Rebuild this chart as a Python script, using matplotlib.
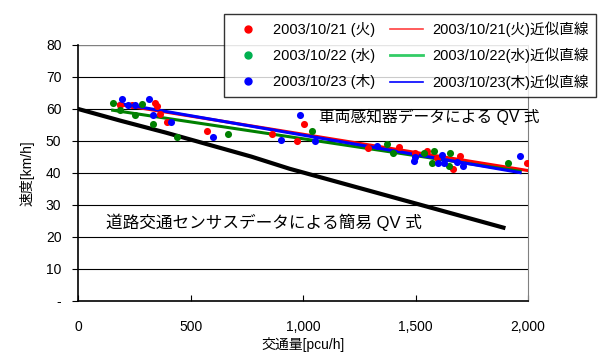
import matplotlib
matplotlib.use('Agg')
import matplotlib.pyplot as plt
from matplotlib.lines import Line2D

plt.rcParams['font.family'] = ['Liberation Sans', 'Noto Sans CJK JP', 'DejaVu Sans']

# 観測データ (交通量[pcu/h], 速度[km/h])
red_x = [187, 240, 342, 352, 364, 394, 572, 861, 972, 1006, 1290, 1424, 1498, 1549, 1594, 1668, 1695, 1994]
red_y = [61.2, 61.2, 62.0, 61.0, 58.5, 56.0, 53.1, 52.1, 50.1, 55.2, 47.7, 48.1, 46.1, 46.7, 44.8, 41.2, 45.4, 43.0]
green_x = [154, 187, 253, 286, 335, 441, 665, 1039, 1372, 1401, 1535, 1572, 1582, 1653, 1650, 1912]
green_y = [62.0, 59.6, 58.0, 61.4, 55.2, 51.2, 52.1, 53.1, 49.1, 46.1, 46.1, 43.0, 47.0, 46.1, 42.2, 43.0]
blue_x = [194, 224, 253, 317, 335, 412, 601, 901, 987, 1052, 1327, 1493, 1498, 1601, 1616, 1624, 1683, 1712, 1964]
blue_y = [63.0, 61.2, 61.2, 63.0, 58.0, 56.0, 51.1, 50.3, 58.1, 50.1, 48.4, 43.8, 45.1, 43.0, 45.6, 43.0, 43.5, 42.3, 45.3]

# 近似直線 (両端)
red_fit_x = [180, 1994]
red_fit_y = [61.4, 40.8]
green_fit_x = [154, 1964]
green_fit_y = [59.6, 40.5]
blue_fit_x = [186, 1964]
blue_fit_y = [61.7, 40.1]

# 簡易QV式
qv_x = [0, 190, 390, 770, 940, 1890]
qv_y = [60, 56.3, 52.6, 45.1, 41.3, 22.9]

x_ticks = [0, 500, 1000, 1500, 2000]
x_labels = ['0', '500', '1,000', '1,500', '2,000']
y_ticks = [0, 10, 20, 30, 40, 50, 60, 70, 80]
y_labels = ['-', '10', '20', '30', '40', '50', '60', '70', '80']

fig = plt.figure(figsize=(6.05, 3.54), dpi=100)
ax = fig.add_axes([0.129, 0.150, 0.744, 0.723])

for y in y_ticks[1:-1]:
    ax.axhline(y, color='black', lw=0.8, zorder=0)
ax.axhline(80, color='#808080', lw=1.0, zorder=0)

ax.plot(qv_x, qv_y, color='black', lw=3.0, zorder=2)
ax.plot(red_fit_x, red_fit_y, color='#ff0000', lw=2.2, zorder=3)
ax.plot(green_fit_x, green_fit_y, color='#008000', lw=2.2, zorder=3)
ax.plot(blue_fit_x, blue_fit_y, color='#0000ff', lw=2.2, zorder=3)

ax.scatter(red_x, red_y, s=26, color='#ff0000', zorder=4, linewidths=0)
ax.scatter(green_x, green_y, s=26, color='#008000', zorder=4, linewidths=0)
ax.scatter(blue_x, blue_y, s=26, color='#0000ff', zorder=4, linewidths=0)

ax.set_xlim(0, 2000)
ax.set_ylim(0, 80)
ax.set_xticks(x_ticks)
ax.set_xticklabels(x_labels)
ax.set_yticks(y_ticks)
ax.set_yticklabels(y_labels)
ax.tick_params(axis='x', direction='in', length=4, pad=14, labelsize=10)
ax.tick_params(axis='y', direction='out', length=4, pad=8, labelsize=10)

ax.spines['top'].set_visible(False)
ax.spines['right'].set_color('#808080')
ax.spines['left'].set_linewidth(1.2)
ax.spines['bottom'].set_linewidth(1.2)

ax.set_xlabel('交通量[pcu/h]', fontsize=10, labelpad=2)
ax.set_ylabel('速度[km/h]', fontsize=10, labelpad=8)

ax.text(1070, 57.5, '車両感知器データによる QV 式', fontsize=11.3, va='center', ha='left',
        clip_on=False)
ax.text(124, 24.7, '道路交通センサスデータによる簡易 QV 式', fontsize=12, va='center', ha='left')

handles = [
    Line2D([], [], ls='none', marker='o', ms=5, color='#ff0000'),
    Line2D([], [], ls='none', marker='o', ms=5, color='#00b050'),
    Line2D([], [], ls='none', marker='o', ms=5, color='#0000ff'),
    Line2D([], [], color='#ff4040', lw=1.2),
    Line2D([], [], color='#33cc66', lw=2.0),
    Line2D([], [], color='#0000ff', lw=1.2),
]
labels = [
    '2003/10/21 (火)', '2003/10/22 (水)', '2003/10/23 (木)',
    '2003/10/21(火)近似直線', '2003/10/22(水)近似直線', '2003/10/23(木)近似直線',
]
leg = fig.legend(handles, labels, ncol=2, loc='upper right',
                 bbox_to_anchor=(0.997, 0.981), fontsize=10.5,
                 frameon=True, fancybox=False, edgecolor='black',
                 handlelength=2.3, handletextpad=0.6, columnspacing=1.0,
                 labelspacing=0.75, borderpad=0.5)
leg.get_frame().set_linewidth(1.0)

fig.savefig('out.png', dpi=100)
